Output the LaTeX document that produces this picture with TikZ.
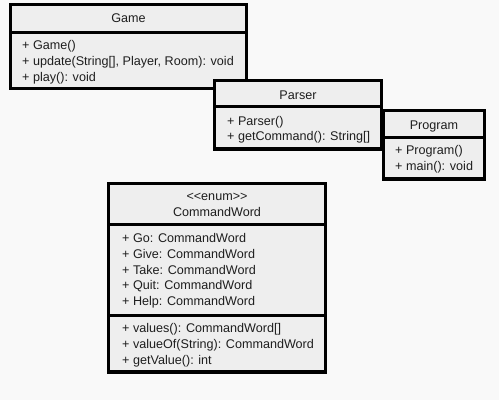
\documentclass[tikz,border=0pt]{standalone}
\usepackage{fontspec}
\setmainfont{Liberation Sans}
\definecolor{pagebg}{HTML}{F9F9F9}
\definecolor{boxfill}{HTML}{EEEEEE}
\definecolor{ink}{HTML}{1E1E1E}
\tikzset{
  classbox/.style={draw=black, fill=boxfill, line width=3.5pt},
  divider/.style={draw=black, line width=3pt},
  title/.style={anchor=base, inner sep=0pt, text=ink},
  members/.style={anchor=base west, align=left, inner sep=0pt, text=ink}
}
\begin{document}
\begin{tikzpicture}[x=1pt, y=-1pt, font=\fontsize{12.6}{15.8}\selectfont]
  \fill [pagebg] (0,0) rectangle (499,400);
  \useasboundingbox (0,0) rectangle (499,400);
  % Game
  \draw [classbox] (10.5,4.5) rectangle (246.5,88.5);
  \draw [divider] (10.5,32) -- (246.5,32);
  \node [title] (game) at (128.5,22.5) {Game};
  \node [members] (gameops) at (22,81) {+ Game()\\+ update(String[], Player, Room): void\\+ play(): void};
  % Parser
  \draw [classbox] (214.5,80.5) rectangle (381.5,149);
  \draw [divider] (214.5,106.5) -- (381.5,106.5);
  \node [title] (parser) at (298,99.5) {Parser};
  \node [members] (parserops) at (227,140.8) {+ Parser()\\+ getCommand(): String[]};
  % Program
  \draw [classbox] (383.5,110.5) rectangle (484.5,179);
  \draw [divider] (383.5,137) -- (484.5,137);
  \node [title] (program) at (434,129.5) {Program};
  \node [members] (programops) at (395,170.3) {+ Program()\\+ main(): void};
  % CommandWord
  \draw [classbox] (108.5,183.5) rectangle (325.5,372);
  \draw [divider] (108.5,224.5) -- (325.5,224.5);
  \draw [divider] (108.5,315.5) -- (325.5,315.5);
  \node [title] (stereo) at (217,200) {<\kern0pt<enum>\kern0pt>};
  \node [title] (commandword) at (217,216.5) {CommandWord};
  \node [members] (cwfields) at (122,305.6) {+ Go: CommandWord\\+ Give: CommandWord\\+ Take: CommandWord\\+ Quit: CommandWord\\+ Help: CommandWord};
  \node [members] (cwops) at (122,364.1) {+ values(): CommandWord[]\\+ valueOf(String): CommandWord\\+ getValue(): int};
\end{tikzpicture}
\end{document}
